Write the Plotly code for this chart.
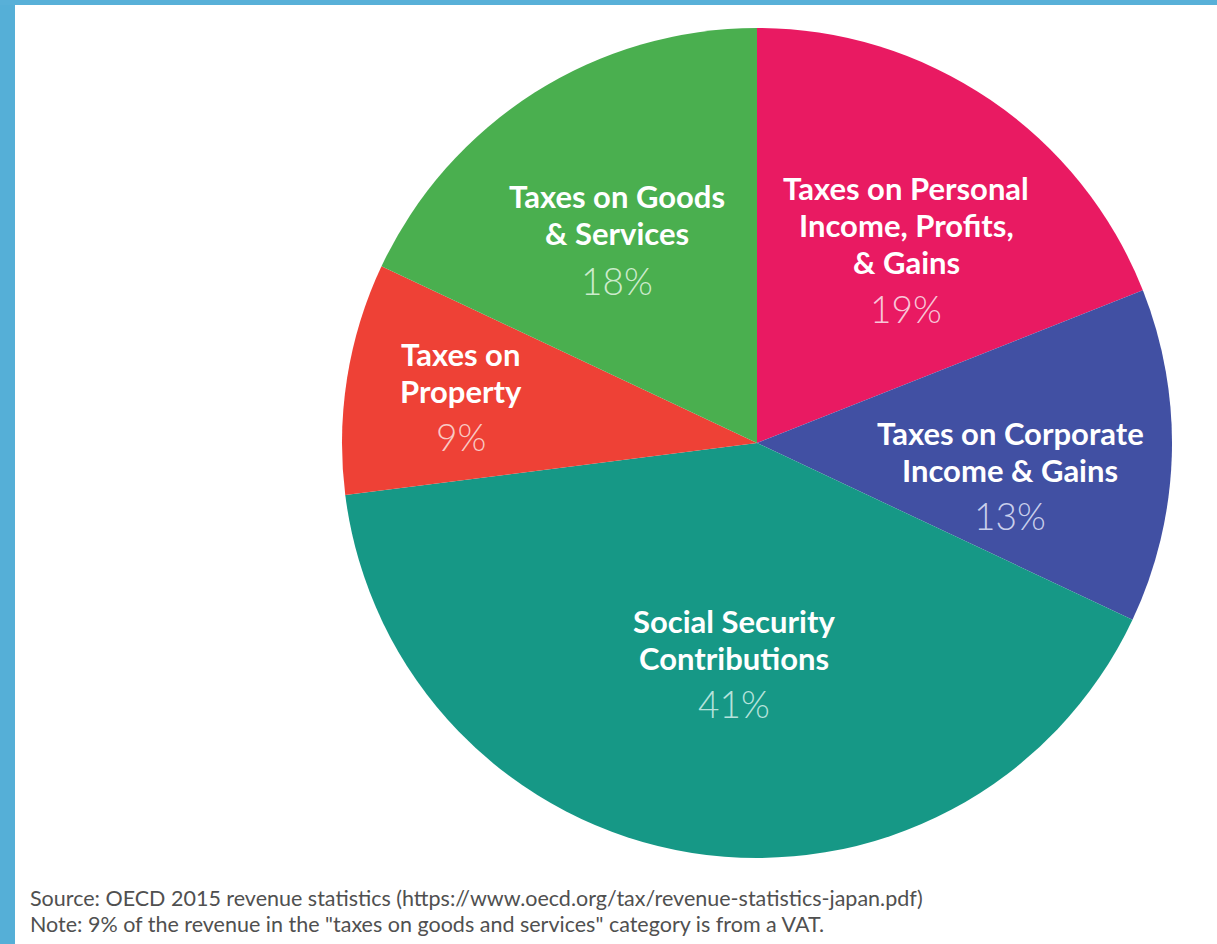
import plotly.graph_objects as go

W, H = 1217, 944

categories = [
    "Taxes on Personal<br>Income, Profits,<br>& Gains",
    "Taxes on Corporate<br>Income & Gains",
    "Social Security<br>Contributions",
    "Taxes on<br>Property",
    "Taxes on Goods<br>& Services",
]
values = [19, 13, 41, 9, 18]
colors = ["#E91A62", "#4150A3", "#169886", "#EE4136", "#4AAF4F"]
pct_colors = ["#F8C6D8", "#C9CFEC", "#B6E3DC", "#F9C9C4", "#CDEBCD"]
# label anchor positions in pixels (center x, first line y, percent y)
label_pos = [(906, 188, 308), (1010, 433, 515), (734, 621, 703), (461, 354, 437), (617, 196, 281)]

source_lines = [
    "Source: OECD 2015 revenue statistics (https://www.oecd.org/tax/revenue-statistics-japan.pdf)",
    'Note: 9% of the revenue in the "taxes on goods and services" category is from a VAT.',
]

cx, cy, r = 757, 443, 415
LINE = 37


def px(x):
    return x / W


def py(y):
    return 1 - y / H


fig = go.Figure(
    go.Pie(
        values=values,
        labels=[c.replace("<br>", " ") for c in categories],
        marker=dict(colors=colors, line=dict(width=0)),
        sort=False,
        direction="clockwise",
        rotation=0,
        textinfo="none",
        hoverinfo="label+percent",
        showlegend=False,
        domain=dict(x=[px(cx - r), px(cx + r)], y=[py(cy + r), py(cy - r)]),
    )
)

annotations = []
for cat, val, pc, (x, y0, yp) in zip(categories, values, pct_colors, label_pos):
    for i, line in enumerate(cat.split("<br>")):
        annotations.append(dict(
            x=px(x), y=py(y0 + i * LINE), xref="paper", yref="paper", text=f"<b>{line}</b>",
            showarrow=False, xanchor="center", yanchor="middle", align="center",
            font=dict(family="Lato", size=31, color="white"),
        ))
    annotations.append(dict(
        x=px(x), y=py(yp), xref="paper", yref="paper", text=f"{val}%",
        showarrow=False, xanchor="center", yanchor="middle",
        font=dict(family="Lato", size=37, color=pc, weight=300),
    ))

for i, line in enumerate(source_lines):
    annotations.append(dict(
        x=px(28), y=py(898 + i * 26), xref="paper", yref="paper",
        text=line, showarrow=False, xanchor="left", yanchor="middle",
        align="left", font=dict(family="Lato", size=21.5, color="#505050"),
    ))

shapes = [
    dict(type="rect", xref="paper", yref="paper", x0=0, x1=px(15), y0=0, y1=1,
         fillcolor="#55AFD7", line=dict(width=0), layer="above"),
    dict(type="rect", xref="paper", yref="paper", x0=0, x1=1, y0=py(5), y1=1,
         fillcolor="#58B0D8", line=dict(width=0), layer="above"),
]

fig.update_layout(
    width=W, height=H,
    margin=dict(l=0, r=0, t=0, b=0),
    paper_bgcolor="white", plot_bgcolor="white",
    annotations=annotations, shapes=shapes,
)

fig.write_html(
    "out.html",
    config={"displayModeBar": False},
    post_script="document.body.style.margin='0';document.body.style.overflow='hidden';",
)
